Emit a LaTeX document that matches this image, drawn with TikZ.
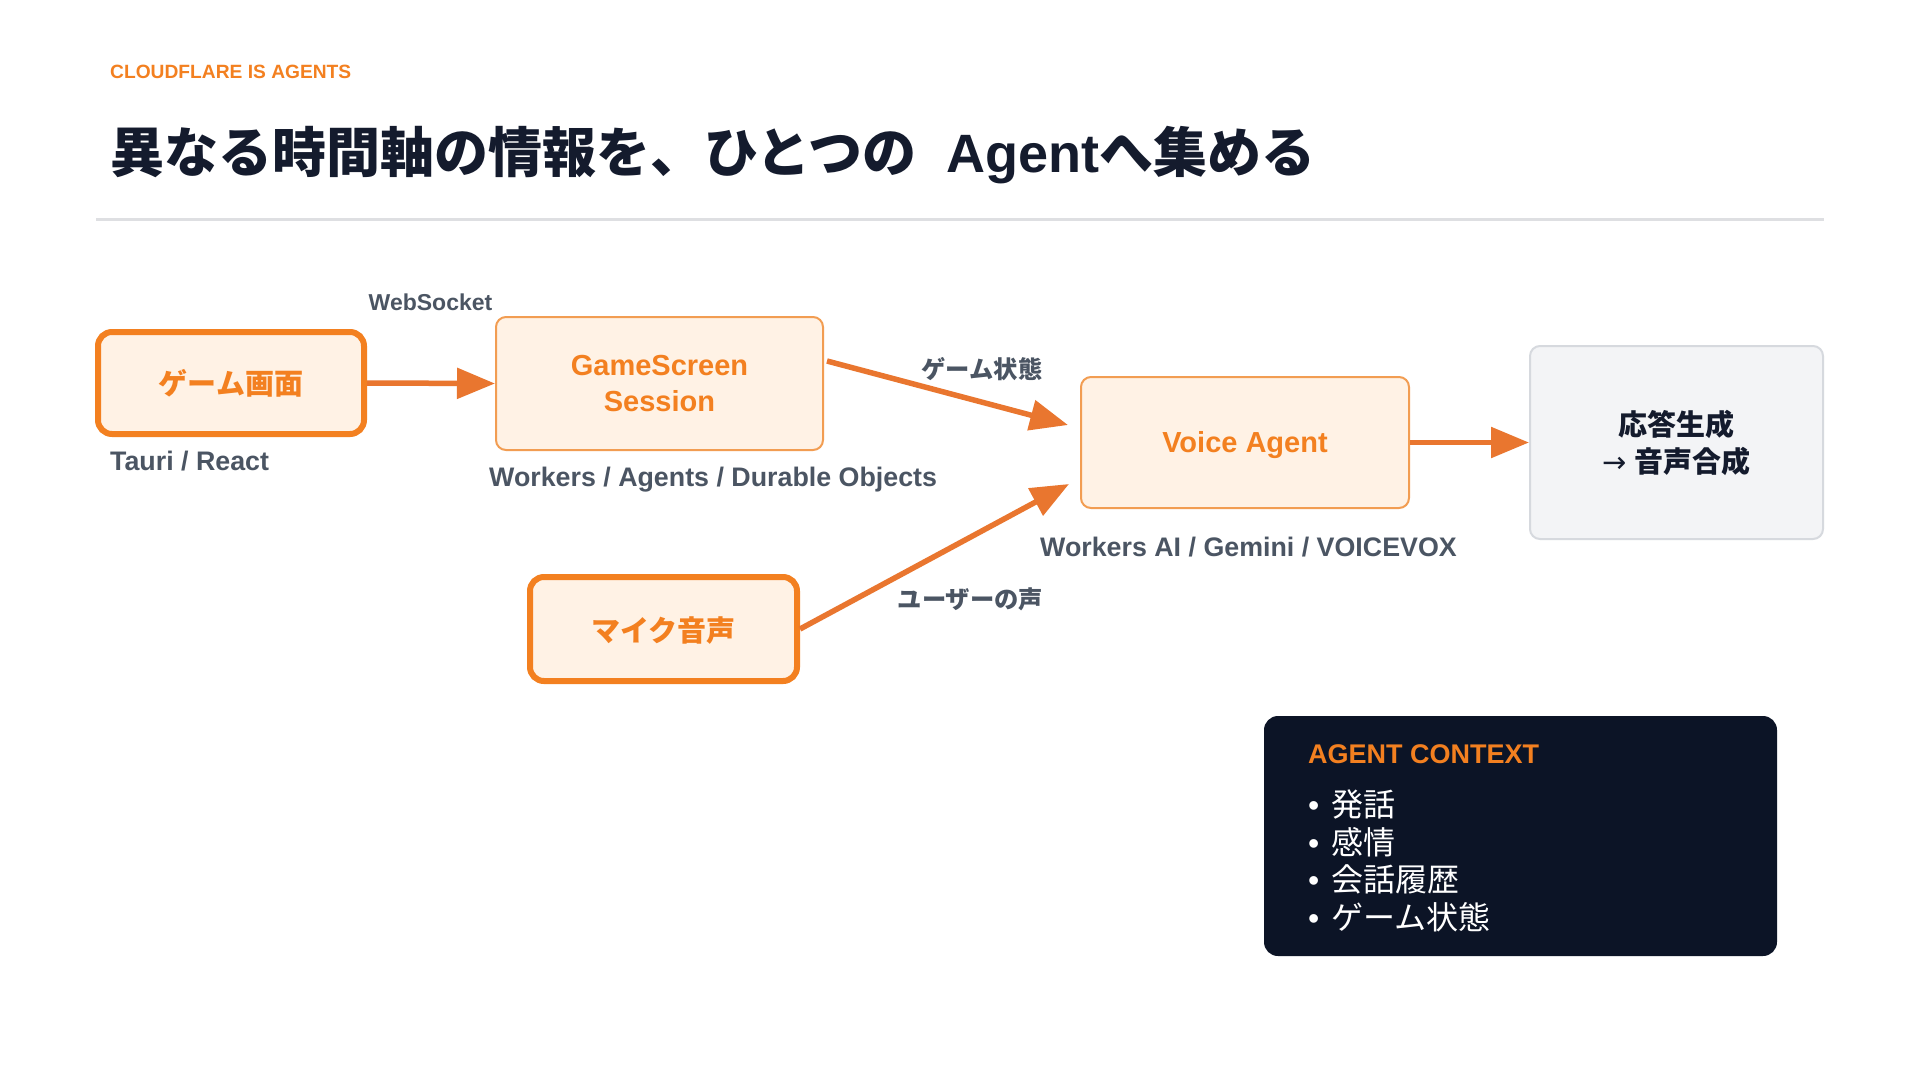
\documentclass[tikz,border=0pt]{standalone}
\usepackage{fontspec}
\setmainfont{Liberation Sans}
\newfontfamily\jp{Noto Sans CJK JP}
\newfontfamily\arrowfont{DejaVu Sans}
\usetikzlibrary{arrows.meta,calc}
\definecolor{cforange}{HTML}{F38020}
\definecolor{carrow}{HTML}{E9762F}
\definecolor{cfill}{HTML}{FFF2E5}
\definecolor{cthin}{HTML}{F29D52}
\definecolor{ctitle}{HTML}{141B2D}
\definecolor{cgray}{HTML}{4B5563}
\definecolor{crule}{HTML}{DEDFE2}
\definecolor{crespfill}{HTML}{F3F4F6}
\definecolor{crespdraw}{HTML}{D6D9DE}
\definecolor{cdark}{HTML}{0C1426}
\begin{document}
\begin{tikzpicture}[x=1pt,y=-1pt,
  thickbox/.style={draw=cforange, line width=6pt, fill=cfill, rounded corners=14pt,
    inner sep=0pt, text=cforange, font=\jp\bfseries\fontsize{29}{35}\selectfont},
  thinbox/.style={draw=cthin, line width=2pt, fill=cfill, rounded corners=10pt,
    inner sep=0pt, text=cforange, align=center, font=\bfseries\fontsize{29}{36}\selectfont},
  respbox/.style={draw=crespdraw, line width=2pt, fill=crespfill, rounded corners=10pt,
    inner sep=0pt, text=ctitle, align=center, font=\jp\bfseries\fontsize{29}{37}\selectfont},
  ctxbox/.style={fill=cdark, rounded corners=14pt, inner sep=0pt},
  flow/.style={draw=carrow, line width=5.5pt, -{Triangle[length=38pt,width=30pt]}},
  lbl/.style={inner sep=0pt, text=cgray, font=\bfseries\fontsize{26.8}{31}\selectfont},
  smalllbl/.style={inner sep=0pt, text=cgray, font=\bfseries\fontsize{23}{28}\selectfont},
  jplbl/.style={inner sep=0pt, text=cgray, font=\jp\bfseries\fontsize{24.3}{29}\selectfont},
  bullet/.style={inner sep=0pt, text=white, font=\fontsize{32}{38}\selectfont},
]
\useasboundingbox[fill=white] (0,0) rectangle (1920,1080);

% header
\node[inner sep=0pt, anchor=base west, text=cforange, font=\bfseries\fontsize{19.2}{23}\selectfont]
  (kicker) at (110,78) {CLOUDFLARE IS AGENTS};
\node[inner sep=0pt, anchor=base west, text=ctitle, font=\bfseries\fontsize{54}{60}\selectfont]
  (title) at (110,172) {{\jp 異なる時間軸の情報を、ひとつの}\hspace{30pt}Agent{\jp へ集める}};
\draw[crule, line width=3pt] (96,219) -- (1824,219);

% boxes
\node[thickbox, minimum width=266pt, minimum height=102pt] (screen) at (231,383) {ゲーム画面};
\node[thinbox, minimum width=327pt, minimum height=133pt] (session) at (659.5,383.5) {GameScreen\\Session};
\node[thinbox, minimum width=328pt, minimum height=131pt, text depth=0pt, text height=20.8pt] (voice) at (1245,442.5) {Voice Agent};
\node[respbox, minimum width=293pt, minimum height=193pt] (resp) at (1676.5,442.5) {応答生成\\{\arrowfont\mdseries →}\hspace{8pt}音声合成};
\node[thickbox, minimum width=267pt, minimum height=104pt, text depth=0pt] (mic) at (663.5,629) {マイク音声};

% labels
\node[lbl, anchor=base west] (tauri) at (110,470) {Tauri / React};
\node[smalllbl, anchor=base] (ws) at (430.5,310) {WebSocket};
\node[lbl, anchor=base west] (stack1) at (489,486) {Workers / Agents / Durable Objects};
\node[lbl, anchor=base west] (stack2) at (1040,556) {Workers AI / Gemini / VOICEVOX};
\node[jplbl, anchor=base] (lstate) at (982,378) {ゲーム状態};
\node[jplbl, anchor=base] (lvoice) at (970.5,608) {ユーザーの声};

% arrows
\draw[flow] (screen.east) -- (session.west);
\draw[flow] ($(session.east)+(3,-22.5)$) -- ($(voice.west)+(-12,-17.5)$);
\draw[flow] (mic.east) -- ($(voice.west)+(-11,41.5)$);
\draw[flow] (voice.east) -- (resp.west);

% context box
\node[ctxbox, minimum width=513pt, minimum height=240pt] (ctx) at (1520.5,836) {};
\node[inner sep=0pt, anchor=base west, text=cforange, font=\bfseries\fontsize{27}{32}\selectfont]
  (ctxtitle) at (1308,763) {AGENT CONTEXT};
\node[bullet, anchor=base west] (b1) at (1308,816.5) {•\hspace{12pt}{\jp 発話}};
\node[bullet, anchor=base west] (b2) at (1308,854) {•\hspace{12pt}{\jp 感情}};
\node[bullet, anchor=base west] (b3) at (1308,891.5) {•\hspace{12pt}{\jp 会話履歴}};
\node[bullet, anchor=base west] (b4) at (1308,929) {•\hspace{12pt}{\jp ゲーム状態}};
\end{tikzpicture}
\end{document}
